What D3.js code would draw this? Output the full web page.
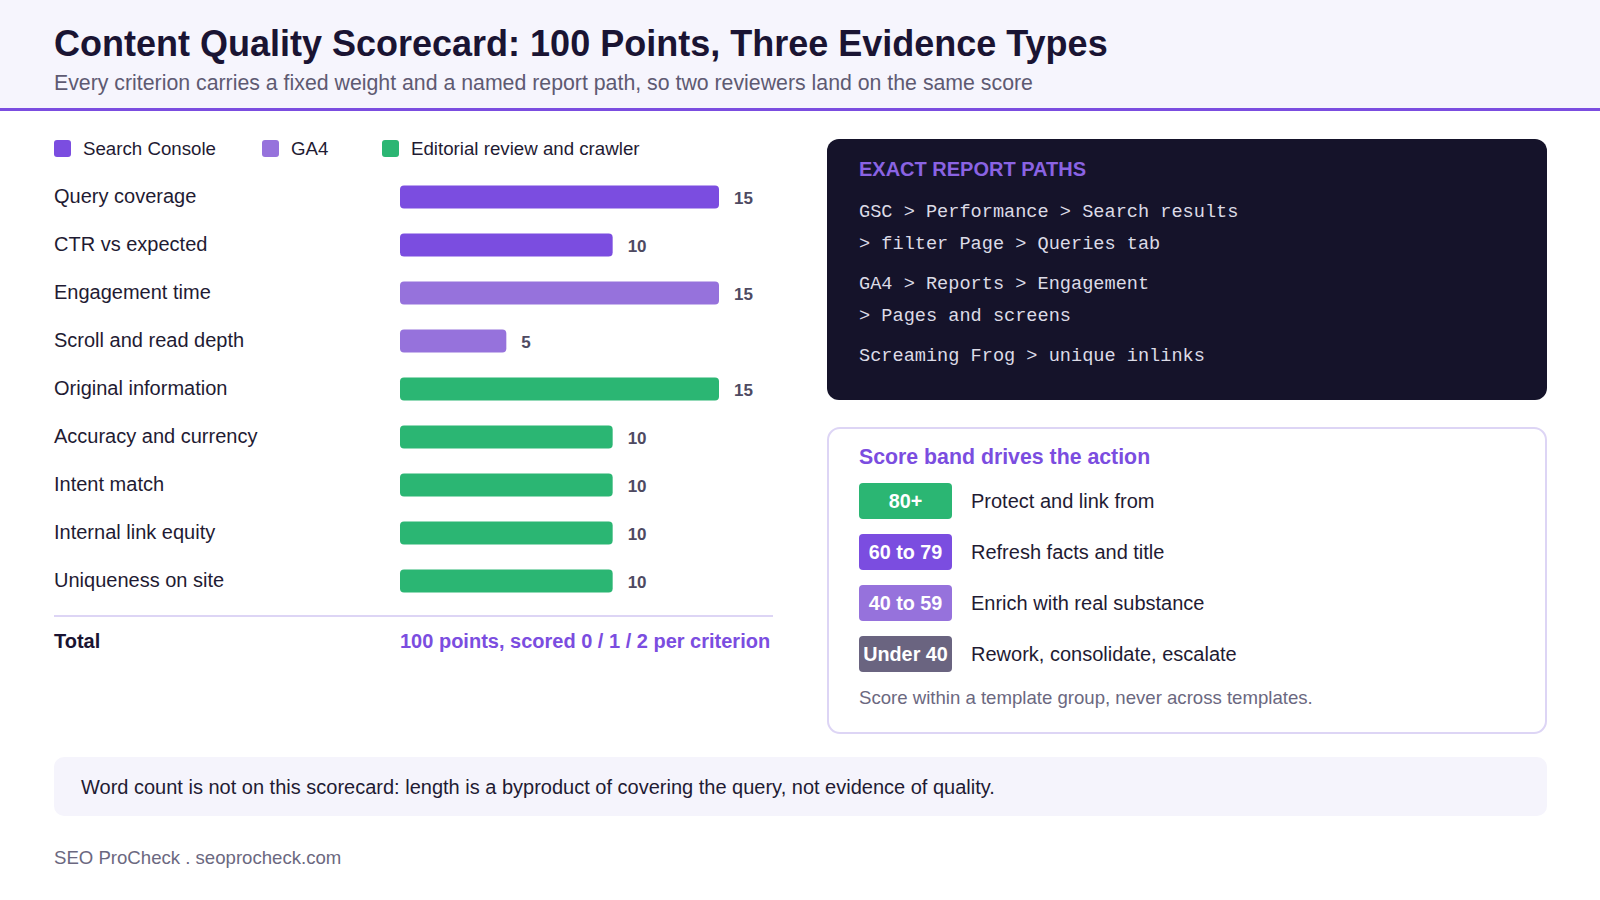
<!DOCTYPE html>
<html>
<head>
<meta charset="utf-8">
<script src="https://cdn.jsdelivr.net/npm/d3@7"></script>
<style>
  body { margin: 0; background: #ffffff; }
  svg { display: block; font-family: "Liberation Sans", Arial, sans-serif; }
</style>
</head>
<body>
<div id="chart"></div>
<script>
// data
const criteria = ['Query coverage', 'CTR vs expected', 'Engagement time', 'Scroll and read depth',
  'Original information', 'Accuracy and currency', 'Intent match', 'Internal link equity', 'Uniqueness on site'];
const weights = [15, 10, 15, 5, 15, 10, 10, 10, 10];
const sources = ['Search Console', 'Search Console', 'GA4', 'GA4', 'Editorial review and crawler',
  'Editorial review and crawler', 'Editorial review and crawler', 'Editorial review and crawler', 'Editorial review and crawler'];
const sourceNames = ['Search Console', 'GA4', 'Editorial review and crawler'];
const reportPaths = [
  ['GSC > Performance > Search results', '> filter Page > Queries tab'],
  ['GA4 > Reports > Engagement', '> Pages and screens'],
  ['Screaming Frog > unique inlinks']
];
const bands = ['80+', '60 to 79', '40 to 59', 'Under 40'];
const actions = ['Protect and link from', 'Refresh facts and title', 'Enrich with real substance', 'Rework, consolidate, escalate'];

const color = d3.scaleOrdinal()
  .domain(sourceNames)
  .range(['#7b4de0', '#9672dc', '#2bb673']);
const bandColor = d3.scaleOrdinal()
  .domain(bands)
  .range(['#2bb673', '#7b4de0', '#9672dc', '#6a6480']);

const W = 1600;
const H = 900;
const svg = d3.select('#chart').append('svg')
  .attr('width', W)
  .attr('height', H);

// header
svg.append('rect').attr('x', 0).attr('y', 0).attr('width', W).attr('height', 109).attr('fill', '#f6f5fd');
svg.append('rect').attr('x', 0).attr('y', 108).attr('width', W).attr('height', 3).attr('fill', '#7b4de0');
svg.append('text')
  .attr('x', 54).attr('y', 56)
  .attr('font-size', 36).attr('font-weight', 700).attr('fill', '#1a1433')
  .text('Content Quality Scorecard: 100 Points, Three Evidence Types');
svg.append('text')
  .attr('x', 54).attr('y', 90)
  .attr('font-size', 21.3).attr('fill', '#5e5a72')
  .text('Every criterion carries a fixed weight and a named report path, so two reviewers land on the same score');

// legend
const legendX = [54, 262, 382];
const legend = svg.selectAll('.legend')
  .data(sourceNames)
  .enter()
  .append('g')
  .attr('class', 'legend')
  .attr('transform', (d, i) => `translate(${legendX[i]},140)`);
legend.append('rect')
  .attr('width', 17).attr('height', 17).attr('rx', 3)
  .attr('fill', d => color(d));
legend.append('text')
  .attr('x', 29).attr('y', 15)
  .attr('font-size', 18.7).attr('fill', '#1f1b33')
  .text(d => d);

// bars
const x = d3.scaleLinear().domain([0, 15]).range([0, 319]);
const y = d3.scalePoint().domain(criteria).range([197, 581]);
const barH = 23;
const barX = 400;

const rows = svg.selectAll('.row')
  .data(criteria)
  .enter()
  .append('g')
  .attr('class', 'row');
rows.append('text')
  .attr('x', 54).attr('y', d => y(d) + 6)
  .attr('font-size', 20).attr('fill', '#1f1b33')
  .text(d => d);
rows.append('rect')
  .attr('x', barX)
  .attr('y', d => y(d) - barH / 2)
  .attr('width', (d, i) => x(weights[i]))
  .attr('height', barH)
  .attr('rx', 4)
  .attr('fill', (d, i) => color(sources[i]));
rows.append('text')
  .attr('x', (d, i) => barX + x(weights[i]) + 15)
  .attr('y', d => y(d) + 7)
  .attr('font-size', 17).attr('font-weight', 700).attr('fill', '#4e4a62')
  .text((d, i) => weights[i]);

// total
svg.append('rect').attr('x', 54).attr('y', 615).attr('width', 719).attr('height', 2).attr('fill', '#ddd5f5');
svg.append('text')
  .attr('x', 54).attr('y', 648)
  .attr('font-size', 20).attr('font-weight', 700).attr('fill', '#1a1433')
  .text('Total');
svg.append('text')
  .attr('x', barX).attr('y', 648)
  .attr('font-size', 20).attr('font-weight', 700).attr('fill', '#7b4de0')
  .text(`${d3.sum(weights)} points, scored 0 / 1 / 2 per criterion`);

// dark report path panel
svg.append('rect')
  .attr('x', 827).attr('y', 139).attr('width', 720).attr('height', 261).attr('rx', 12)
  .attr('fill', '#15132a');
svg.append('text')
  .attr('x', 859).attr('y', 176)
  .attr('font-size', 20).attr('font-weight', 700).attr('fill', '#8a63e3')
  .text('EXACT REPORT PATHS');
let py = 217;
reportPaths.forEach((group, gi) => {
  if (gi > 0) py += 40;
  group.forEach((line, li) => {
    if (li > 0) py += 32;
    svg.append('text')
      .attr('x', 859).attr('y', py)
      .attr('font-family', '"Liberation Mono", "Courier New", monospace')
      .attr('font-size', 18.6).attr('fill', '#dcdbe6')
      .attr('xml:space', 'preserve')
      .text(line);
  });
});

// score band card
svg.append('rect')
  .attr('x', 828).attr('y', 428).attr('width', 718).attr('height', 305).attr('rx', 12)
  .attr('fill', '#ffffff').attr('stroke', '#ddd5f5').attr('stroke-width', 2);
svg.append('text')
  .attr('x', 859).attr('y', 464)
  .attr('font-size', 21.3).attr('font-weight', 700).attr('fill', '#7b4de0')
  .text('Score band drives the action');
const bandY = d3.scalePoint().domain(bands).range([483, 636]);
const bandRows = svg.selectAll('.band')
  .data(bands)
  .enter()
  .append('g')
  .attr('class', 'band')
  .attr('transform', d => `translate(859,${bandY(d)})`);
bandRows.append('rect')
  .attr('width', 93).attr('height', 36).attr('rx', 4)
  .attr('fill', d => bandColor(d));
bandRows.append('text')
  .attr('x', 46.5).attr('y', 25)
  .attr('text-anchor', 'middle')
  .attr('font-size', 19.8).attr('font-weight', 700).attr('fill', '#ffffff')
  .text(d => d);
bandRows.append('text')
  .attr('x', 112).attr('y', 25)
  .attr('font-size', 20).attr('fill', '#1f1b33')
  .text((d, i) => actions[i]);
svg.append('text')
  .attr('x', 859).attr('y', 704)
  .attr('font-size', 18.6).attr('fill', '#6b6880')
  .text('Score within a template group, never across templates.');

// note
svg.append('rect')
  .attr('x', 54).attr('y', 757).attr('width', 1493).attr('height', 59).attr('rx', 10)
  .attr('fill', '#f5f4fc');
svg.append('text')
  .attr('x', 81).attr('y', 794)
  .attr('font-size', 20).attr('fill', '#1f1b33')
  .text('Word count is not on this scorecard: length is a byproduct of covering the query, not evidence of quality.');

// footer
svg.append('text')
  .attr('x', 54).attr('y', 864)
  .attr('font-size', 18.6).attr('fill', '#6b6880')
  .text('SEO ProCheck . seoprocheck.com');
</script>
</body>
</html>
